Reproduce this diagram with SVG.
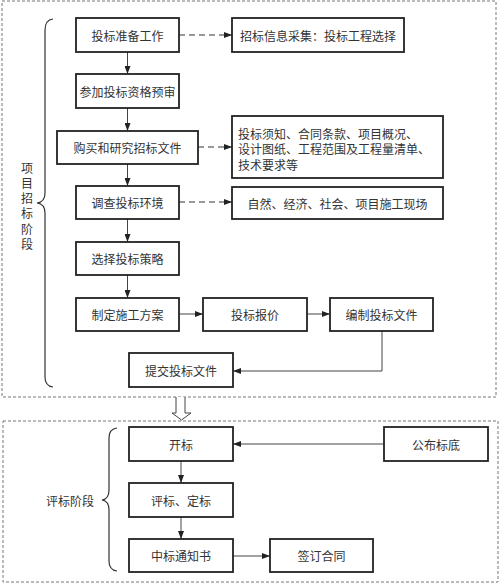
<svg xmlns="http://www.w3.org/2000/svg" width="500" height="583" viewBox="0 0 500 583">
<defs>
<marker id="ah" viewBox="0 0 8 6" refX="8" refY="3" markerWidth="8" markerHeight="6" markerUnits="userSpaceOnUse" orient="auto">
<path d="M0,0 L8,3 L0,6 Z" fill="#222"/>
</marker>
</defs>
<style>
.frame{fill:none;stroke:#777;stroke-width:1;stroke-dasharray:3,2}
.box{fill:#fff;stroke:#222;stroke-width:1.8}
.t{font-family:"Noto Sans CJK SC","Noto Sans CJK JP",sans-serif;font-size:12px;fill:#333;text-anchor:middle;dominant-baseline:central}
.tl{font-family:"Noto Sans CJK SC","Noto Sans CJK JP",sans-serif;font-size:12px;fill:#333;dominant-baseline:central}
.v{font-family:"Noto Sans CJK SC","Noto Sans CJK JP",sans-serif;font-size:12px;fill:#333;writing-mode:vertical-rl;letter-spacing:3.3px}
.c{fill:none;stroke:#444;stroke-width:1;marker-end:url(#ah)}
.d{fill:none;stroke:#333;stroke-width:1;stroke-dasharray:6,4;marker-end:url(#ah)}
.br{fill:none;stroke:#333;stroke-width:1.2}
</style>
<rect width="500" height="583" fill="#fff"/>
<rect class="frame" x="2" y="1" width="494" height="396"/>
<rect class="frame" x="3" y="421" width="495" height="161"/>

<g id="labels">
<text class="v" x="27" y="162">项目招标阶段</text>
<text class="t" x="70" y="500">评标阶段</text>
<path class="br" d="M53,19 Q45,20 45,30 L45,193 Q45,202 37,203 Q45,204 45,213 L45,377 Q45,386 53,387"/>
<path class="br" d="M117,428 Q109,429 109,438 L109,490 Q109,499 102,500 Q109,501 109,510 L109,561 Q109,570 117,571"/>
<path d="M176,397 L176,413 L172,413 L181.5,420 L191,413 L185,413 L185,397" fill="#fff" stroke="#444" stroke-width="1"/>
</g>

<g id="connectors">
<path class="d" d="M179,35 L232,35"/>
<path class="d" d="M198,147 L232,147"/>
<path class="d" d="M179,202 L232,202"/>
<path class="c" d="M127.5,52 L127.5,74"/>
<path class="c" d="M127.5,108 L127.5,131"/>
<path class="c" d="M127.5,164 L127.5,186"/>
<path class="c" d="M127.5,219 L127.5,242"/>
<path class="c" d="M127.5,275 L127.5,298"/>
<path class="c" d="M179,314 L203,314"/>
<path class="c" d="M307,314 L330,314"/>
<path class="c" d="M382,331 L382,371 L233,371"/>
<path class="c" d="M384,444 L233,444"/>
<path class="c" d="M181,461 L181,483"/>
<path class="c" d="M181,517 L181,539"/>
<path class="c" d="M233,556 L270,556"/>
</g>

<g id="n1"><rect class="box" x="76" y="18" width="103" height="34"/><text class="t" x="127.5" y="35">投标准备工作</text></g>
<g id="n2"><rect class="box" x="76" y="74" width="103" height="34"/><text class="t" x="127.5" y="91">参加投标资格预审</text></g>
<g id="n3"><rect class="box" x="57" y="131" width="141" height="33"/><text class="t" x="127.5" y="147.5">购买和研究招标文件</text></g>
<g id="n4"><rect class="box" x="76" y="186" width="103" height="33"/><text class="t" x="127.5" y="202.5">调查投标环境</text></g>
<g id="n5"><rect class="box" x="76" y="242" width="103" height="33"/><text class="t" x="127.5" y="258.5">选择投标策略</text></g>
<g id="n6"><rect class="box" x="76" y="298" width="103" height="33"/><text class="t" x="127.5" y="314.5">制定施工方案</text></g>
<g id="n7"><rect class="box" x="203" y="298" width="104" height="33"/><text class="t" x="255" y="314.5">投标报价</text></g>
<g id="n8"><rect class="box" x="330" y="298" width="103" height="33"/><text class="t" x="381.5" y="314.5">编制投标文件</text></g>
<g id="n9"><rect class="box" x="129" y="353" width="104" height="34"/><text class="t" x="181" y="370">提交投标文件</text></g>
<g id="nA"><rect class="box" x="232" y="18" width="172" height="34"/><text class="t" x="318" y="35">招标信息采集：投标工程选择</text></g>
<g id="nB"><rect class="box" x="232" y="116" width="211" height="62"/>
<text class="tl" x="238" y="133">投标须知、合同条款、项目概况、</text>
<text class="tl" x="238" y="148.5">设计图纸、工程范围及工程量清单、</text>
<text class="tl" x="238" y="164">技术要求等</text></g>
<g id="nC"><rect class="box" x="232" y="187" width="211" height="32"/><text class="t" x="337.5" y="203">自然、经济、社会、项目施工现场</text></g>
<g id="m1"><rect class="box" x="129" y="427" width="104" height="34"/><text class="t" x="181" y="444">开标</text></g>
<g id="m2"><rect class="box" x="129" y="483" width="104" height="34"/><text class="t" x="181" y="500">评标、定标</text></g>
<g id="m3"><rect class="box" x="129" y="539" width="104" height="33"/><text class="t" x="181" y="555.5">中标通知书</text></g>
<g id="m4"><rect class="box" x="384" y="427" width="104" height="34"/><text class="t" x="436" y="444">公布标底</text></g>
<g id="m5"><rect class="box" x="270" y="539" width="103" height="33"/><text class="t" x="321.5" y="555.5">签订合同</text></g>
</svg>
